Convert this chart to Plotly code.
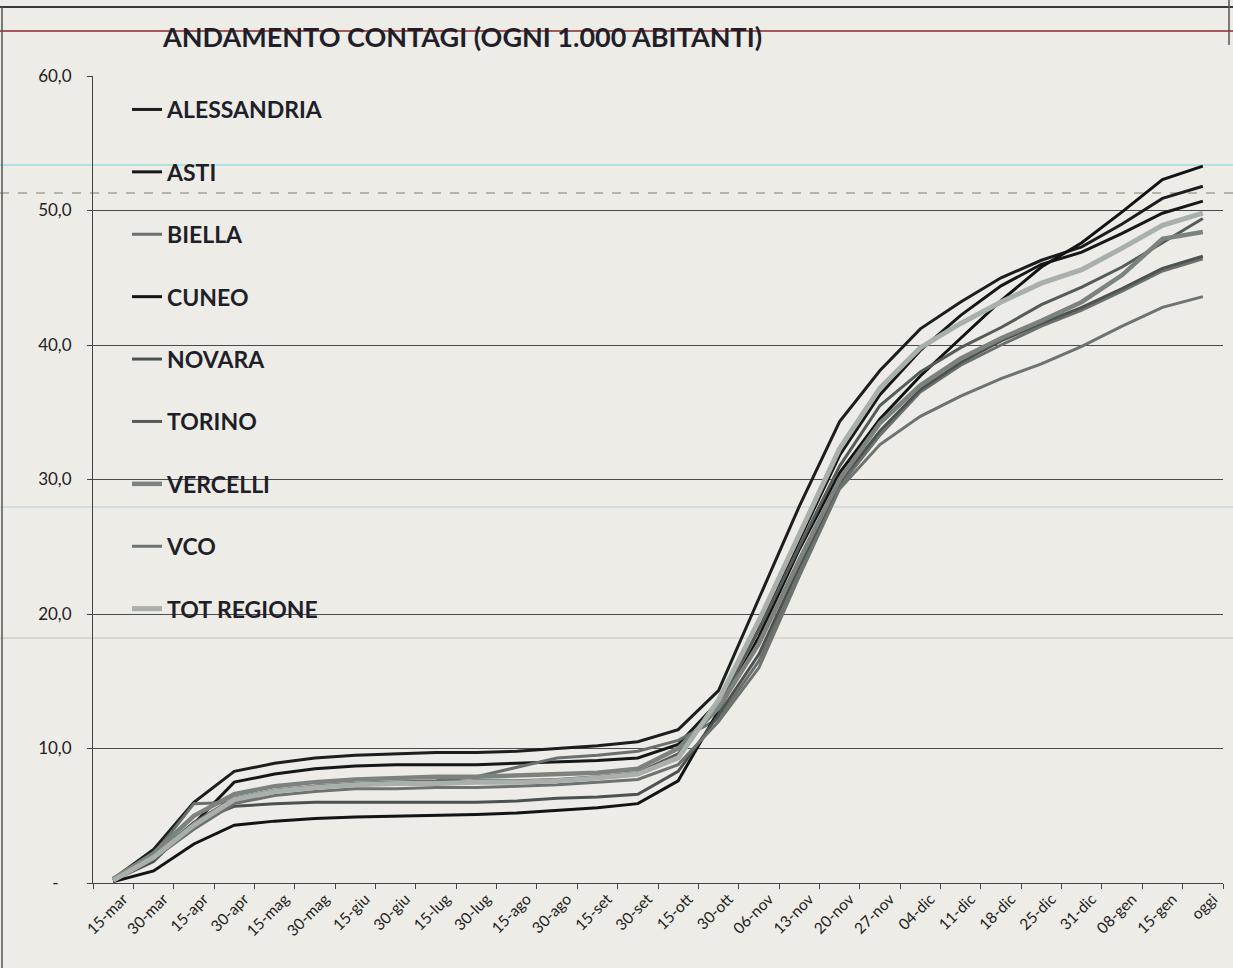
import plotly.graph_objects as go

categories = ["15-mar", "30-mar", "15-apr", "30-apr", "15-mag", "30-mag", "15-giu", "30-giu",
              "15-lug", "30-lug", "15-ago", "30-ago", "15-set", "30-set", "15-ott", "30-ott",
              "06-nov", "13-nov", "20-nov", "27-nov", "04-dic", "11-dic", "18-dic", "25-dic",
              "31-dic", "08-gen", "15-gen", "oggi"]

alessandria = [0.3, 2.5, 6.0, 8.3, 8.9, 9.3, 9.5, 9.6, 9.7, 9.7, 9.8, 10.0, 10.2, 10.5, 11.4, 14.3,
               21.2, 28.0, 34.3, 38.1, 41.2, 43.2, 45.0, 46.3, 47.3, 49.0, 50.9, 51.8]
asti = [0.2, 1.8, 4.4, 7.5, 8.1, 8.5, 8.7, 8.8, 8.8, 8.8, 8.9, 9.0, 9.1, 9.3, 10.3, 13.5,
        19.0, 25.5, 31.8, 36.3, 39.6, 42.2, 44.4, 46.0, 46.9, 48.3, 49.8, 50.7]
biella = [0.3, 2.1, 5.9, 6.0, 6.8, 7.2, 7.4, 7.5, 7.6, 7.9, 8.6, 9.3, 9.5, 9.8, 10.6, 12.2,
          16.5, 23.0, 29.5, 33.3, 36.5, 38.5, 40.0, 41.4, 42.6, 44.0, 45.5, 46.4]
cuneo = [0.1, 0.9, 2.9, 4.3, 4.6, 4.8, 4.9, 4.95, 5.0, 5.1, 5.2, 5.4, 5.6, 5.9, 7.6, 12.8,
         18.3, 24.8, 30.5, 34.5, 37.7, 40.5, 43.3, 45.8, 47.6, 49.9, 52.3, 53.3]
novara = [0.2, 1.6, 4.5, 5.7, 5.9, 6.0, 6.0, 6.0, 6.0, 6.0, 6.1, 6.3, 6.4, 6.6, 8.3, 12.5,
          17.0, 23.5, 29.8, 33.6, 36.7, 38.7, 40.3, 41.6, 42.8, 44.2, 45.7, 46.6]
torino = [0.2, 2.0, 4.5, 6.3, 6.9, 7.2, 7.4, 7.5, 7.5, 7.6, 7.6, 7.7, 7.9, 8.2, 9.6, 13.2,
          18.8, 25.0, 31.0, 35.5, 38.0, 39.8, 41.3, 43.0, 44.3, 45.8, 47.6, 49.4]
vercelli = [0.3, 2.2, 5.0, 6.6, 7.2, 7.5, 7.7, 7.8, 7.9, 7.9, 8.0, 8.1, 8.2, 8.5, 10.0, 13.0,
            17.8, 24.0, 30.0, 34.2, 37.0, 39.0, 40.5, 41.8, 43.2, 45.2, 47.9, 48.4]
vco = [0.2, 1.8, 4.0, 5.9, 6.5, 6.8, 7.0, 7.0, 7.1, 7.1, 7.2, 7.3, 7.5, 7.7, 8.8, 12.0,
       16.0, 22.8, 29.3, 32.6, 34.7, 36.2, 37.5, 38.6, 39.9, 41.4, 42.8, 43.6]
tot_regione = [0.2, 1.9, 4.3, 6.2, 6.8, 7.1, 7.3, 7.4, 7.4, 7.5, 7.5, 7.6, 7.8, 8.1, 9.3, 13.6,
               19.5, 26.0, 32.3, 36.8, 39.8, 41.6, 43.2, 44.6, 45.6, 47.2, 48.9, 49.8]

series_names = ["ALESSANDRIA", "ASTI", "BIELLA", "CUNEO", "NOVARA", "TORINO", "VERCELLI", "VCO", "TOT REGIONE"]
series_values = [alessandria, asti, biella, cuneo, novara, torino, vercelli, vco, tot_regione]

y_tickvals = [0, 10, 20, 30, 40, 50, 60]
y_ticktext = ["-\u00a0\u00a0\u00a0", "10,0", "20,0", "30,0", "40,0", "50,0", "60,0"]

colors = ["#1c1d1d", "#161717", "#6a716d", "#121313", "#4c524f", "#555c58", "#7c837f", "#6c7370", "#a9afab"]
widths = [3, 3, 3, 3, 3, 3, 4.5, 3, 5]

W, H = 1233, 968
L, R, T, B = 93, 10, 76, 85
PAPER = "#eeece6"

fig = go.Figure()
for i, (name, vals) in enumerate(zip(series_names, series_values)):
    fig.add_trace(go.Scatter(
        x=categories, y=vals, name=name, mode="lines",
        line=dict(color=colors[i], width=widths[i]),
        legendgroup=name,
    ))

def px_to_paper_y(py):
    return (H - B - py) / (H - T - B)

def px_to_paper_x(px):
    return (px - L) / (W - L - R)

shapes = []
# scan artifacts / chart border
shapes.append(dict(type="line", xref="paper", yref="paper", x0=px_to_paper_x(0), x1=px_to_paper_x(W),
                   y0=px_to_paper_y(7), y1=px_to_paper_y(7), line=dict(color="#3a3a3a", width=2)))
shapes.append(dict(type="line", xref="paper", yref="paper", x0=px_to_paper_x(0), x1=px_to_paper_x(W),
                   y0=px_to_paper_y(31), y1=px_to_paper_y(31), line=dict(color="#8a2a2a", width=1.5)))
shapes.append(dict(type="line", xref="paper", yref="paper", x0=px_to_paper_x(2), x1=px_to_paper_x(2),
                   y0=px_to_paper_y(7), y1=px_to_paper_y(H), line=dict(color="#555", width=1.5)))
shapes.append(dict(type="line", xref="paper", yref="paper", x0=px_to_paper_x(1229), x1=px_to_paper_x(1229),
                   y0=px_to_paper_y(0), y1=px_to_paper_y(45), line=dict(color="#555", width=1.5)))
for py, col, dash in [(165, "rgba(90,215,215,0.85)", "solid"), (193, "rgba(80,80,50,0.7)", "dash"),
                      (507, "rgba(160,195,215,0.7)", "solid"), (638, "rgba(185,160,160,0.6)", "solid")]:
    shapes.append(dict(type="line", xref="paper", yref="paper", x0=px_to_paper_x(0), x1=px_to_paper_x(W),
                       y0=px_to_paper_y(py), y1=px_to_paper_y(py), line=dict(color=col, width=1, dash=dash),
                       layer="below"))

fig.update_layout(
    width=W, height=H,
    margin=dict(l=L, r=R, t=T, b=B, autoexpand=False),
    paper_bgcolor=PAPER, plot_bgcolor=PAPER,
    font=dict(family="Lato, 'Open Sans', sans-serif", color="#222"),
    title=dict(text="ANDAMENTO CONTAGI (OGNI 1.000 ABITANTI)",
               x=163 / W, xref="container", xanchor="left",
               y=1 - 38 / H, yref="container", yanchor="middle",
               font=dict(size=27, color="#1e1f2a", family="Lato", weight="bold")),
    showlegend=True,
    legend=dict(x=px_to_paper_x(127), y=px_to_paper_y(88), xanchor="left", yanchor="top",
                bgcolor="rgba(0,0,0,0)", font=dict(size=23, color="#1e1f2a", family="Lato", weight="bold"),
                tracegroupgap=29.5, traceorder="grouped", itemwidth=30),
    shapes=shapes,
)

fig.update_xaxes(
    type="category", range=[-0.5, len(categories) - 0.5],
    showgrid=False, showline=True, linecolor="#444", linewidth=1,
    ticks="outside", tickson="boundaries", ticklen=5, tickcolor="#444",
    tickangle=-45, ticklabelshift=10, tickfont=dict(size=15.5, family="Lato", color="#222"),
)
fig.update_yaxes(
    range=[0, 60], tickvals=y_tickvals, ticktext=y_ticktext,
    showgrid=True, gridcolor="#4a4a4a", gridwidth=1,
    showline=True, linecolor="#444", linewidth=1,
    ticks="outside", ticklen=5, tickcolor="#444", ticklabelstandoff=12,
    tickfont=dict(size=17, family="Lato", color="#222"),
    zeroline=False,
)

fig.write_html("out.html", config={"displayModeBar": False},
               post_script="document.body.style.margin='0';document.body.style.overflow='hidden';")
